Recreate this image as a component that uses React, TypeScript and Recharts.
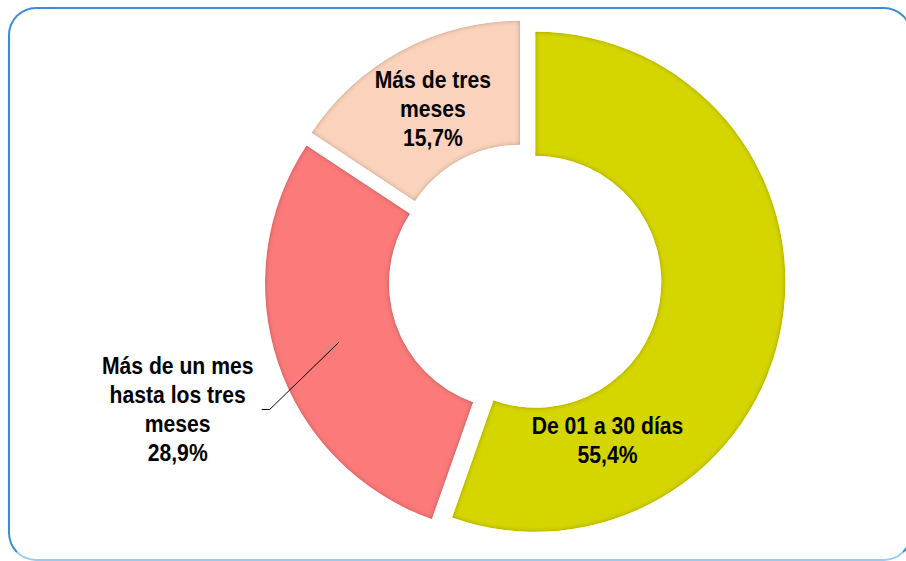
import { PieChart, Pie, Cell } from "recharts";

const categories = ["De 01 a 30 días", "Más de un mes hasta los tres meses", "Más de tres meses"];
const shares = [55.4, 28.9, 15.7];
const labelLines = [["De 01 a 30 días"], ["Más de un mes", "hasta los tres", "meses"], ["Más de tres", "meses"]];

const data = categories.map((name, i) => ({ name, value: shares[i] }));

const fills = ["#D5D500", "#FC7A7A", "#FBD3BC"];

const W = 906;
const H = 561;
const CX = 525;
const CY = 280;
const OUTER = 250;
const INNER = 126;
const EXPLODE = 10.5;
const RAD = Math.PI / 180;
const FONT = "'Liberation Sans Narrow', 'Arial Narrow', 'Liberation Sans', Arial, sans-serif";
const LINE_H = 29;

// label placement per slice: angle override (recharts degrees), radius, optional leader line
const layout: { angle?: number; r: number; leader?: { dx: number; dy: number; hx: number; tx: number } }[] = [
  { angle: -65.5, r: 174 },
  { r: 186, leader: { dx: -69, dy: 67, hx: -8, tx: -84 } },
  { r: 184 },
];

const total = shares.reduce((a, b) => a + b, 0);
// mid angle of each slice in recharts degrees (start at 90, clockwise)
const mids = shares.map((v, i) => {
  const before = shares.slice(0, i).reduce((a, b) => a + b, 0);
  return 90 - ((before + v / 2) / total) * 360;
});

function fmt(v: number) {
  return v.toFixed(1).replace(".", ",") + "%";
}

function Block({ x, y, lines }: { x: number; y: number; lines: string[] }) {
  const top = y - ((lines.length - 1) * LINE_H) / 2 + 8;
  return (
    <g transform={`translate(${x} 0) scale(0.92 1)`}>
      <text x={0} y={top} textAnchor="middle" fontFamily={FONT} fontWeight="bold" fontSize={23} fill="#000">
        {lines.map((l, k) => (
          <tspan key={k} x={0} y={top + k * LINE_H}>
            {l}
          </tspan>
        ))}
      </text>
    </g>
  );
}

function makeLabel(slice: number) {
  return (p: any) => {
    if (p.index !== slice) return null;
    const lay = layout[slice];
    const ang = (lay.angle ?? p.midAngle) * RAD;
    const x = p.cx + lay.r * Math.cos(ang);
    const y = p.cy - lay.r * Math.sin(ang);
    const lines = [...labelLines[slice], fmt(shares[slice])];
    if (lay.leader) {
      const ex = x + lay.leader.dx;
      const ey = y + lay.leader.dy;
      return (
        <g>
          <polyline points={`${x},${y} ${ex},${ey} ${ex + lay.leader.hx},${ey}`} fill="none" stroke="#000" strokeWidth={1} />
          <Block x={ex + lay.leader.hx + lay.leader.tx} y={ey} lines={lines} />
        </g>
      );
    }
    return <Block x={x} y={y} lines={lines} />;
  };
}

export default function App() {
  return (
    <div style={{ position: "absolute", left: 0, top: 0, width: W, height: H, background: "#fff", overflow: "hidden" }}>
      <div
        style={{
          position: "absolute",
          left: 8,
          top: 7,
          width: 900,
          height: 550,
          border: "2px solid #3A8DD4",
          borderBottomColor: "#9CC9EE",
          borderRadius: 28,
        }}
      />
      <div style={{ position: "absolute", left: 0, top: 0 }}>
        <PieChart width={W} height={H} margin={{ top: 0, right: 0, bottom: 0, left: 0 }}>
          <defs>
            <filter id="bevel" x="-5%" y="-5%" width="110%" height="110%">
              <feGaussianBlur in="SourceAlpha" stdDeviation="2.5" result="blur" />
              <feComposite in="SourceAlpha" in2="blur" operator="arithmetic" k2="1" k3="-1" result="edge" />
              <feFlood floodColor="#000" floodOpacity="0.55" />
              <feComposite in2="edge" operator="in" result="shade" />
              <feMerge>
                <feMergeNode in="SourceGraphic" />
                <feMergeNode in="shade" />
              </feMerge>
            </filter>
          </defs>
          {shares.map((_, s) => (
            <Pie
              key={s}
              data={data}
              dataKey="value"
              nameKey="name"
              cx={CX + EXPLODE * Math.cos(mids[s] * RAD)}
              cy={CY - EXPLODE * Math.sin(mids[s] * RAD)}
              innerRadius={INNER}
              outerRadius={OUTER}
              startAngle={90}
              endAngle={-270}
              label={makeLabel(s)}
              labelLine={false}
              isAnimationActive={false}
            >
              {data.map((_, i) => (
                <Cell
                  key={i}
                  fill={i === s ? fills[i] : "none"}
                  stroke="none"
                  filter={i === s ? "url(#bevel)" : undefined}
                />
              ))}
            </Pie>
          ))}
        </PieChart>
      </div>
    </div>
  );
}
